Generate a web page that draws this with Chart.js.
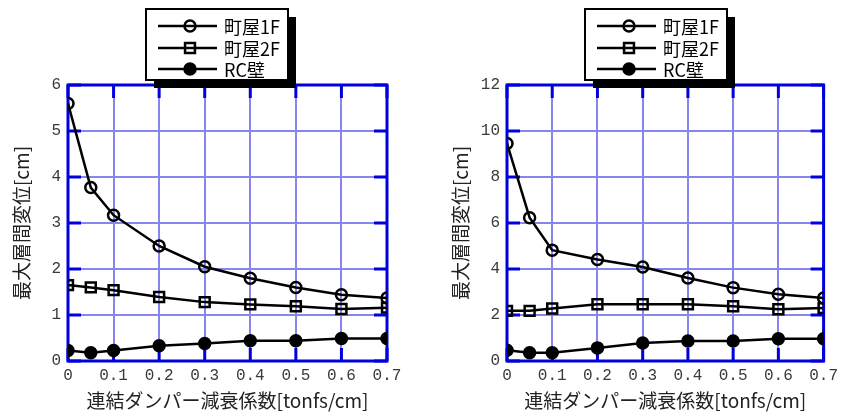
<!DOCTYPE html>
<html>
<head>
<meta charset="utf-8">
<script src="https://cdn.jsdelivr.net/npm/chart.js@4"></script>
<style>
  html, body { margin: 0; padding: 0; background: #fff; }
  #wrap { position: relative; width: 843px; height: 414px; overflow: hidden; }
  .panel { position: absolute; top: 0; height: 414px; }
  #p1 { left: 0; width: 420px; }
  #p2 { left: 439px; width: 404px; }
</style>
</head>
<body>
<div id="wrap">
  <div class="panel" id="p1"><canvas id="c1" width="420" height="414"></canvas></div>
  <div class="panel" id="p2"><canvas id="c2" width="404" height="414"></canvas></div>
</div>
<script>
// Damper damping coefficient (x) and tick labels
const damping = [0, 0.05, 0.1, 0.2, 0.3, 0.4, 0.5, 0.6, 0.7];
const xTickLabels = ['0', '0.1', '0.2', '0.3', '0.4', '0.5', '0.6', '0.7'];
const seriesNames = ['町屋1F', '町屋2F', 'RC壁'];

// Left panel: maximum inter-storey drift [cm]
const leftMachiya1F = [5.6, 3.77, 3.17, 2.5, 2.05, 1.8, 1.6, 1.44, 1.37];
const leftMachiya2F = [1.65, 1.6, 1.54, 1.39, 1.28, 1.23, 1.19, 1.13, 1.16];
const leftRCWall    = [0.23, 0.18, 0.23, 0.33, 0.38, 0.44, 0.44, 0.49, 0.49];
const leftYTicks    = ['0', '1', '2', '3', '4', '5', '6'];

// Right panel: maximum inter-storey drift [cm]
const rightMachiya1F = [9.46, 6.23, 4.82, 4.41, 4.09, 3.61, 3.19, 2.9, 2.74];
const rightMachiya2F = [2.18, 2.18, 2.28, 2.47, 2.47, 2.47, 2.38, 2.25, 2.3];
const rightRCWall    = [0.47, 0.36, 0.36, 0.57, 0.78, 0.87, 0.87, 0.97, 0.97];
const rightYTicks    = ['0', '2', '4', '6', '8', '10', '12'];

const xTitle = '連結ダンパー減衰係数[tonfs/cm]';
const yTitle = '最大層間変位[cm]';

const GRID = 'rgb(134,134,238)';
const FRAME = 'rgb(0,0,222)';
const CJK = '"Noto Sans CJK JP", "Noto Sans", sans-serif';
const MONO = '"Liberation Mono", "DejaVu Sans Mono", monospace';

const styles = [
  { pointStyle: 'circle', pointRadius: 5.5, pointBackgroundColor: 'rgba(0,0,0,0)' },
  { pointStyle: 'rect',   pointRadius: 7,   pointBackgroundColor: 'rgba(0,0,0,0)' },
  { pointStyle: 'circle', pointRadius: 5.5, pointBackgroundColor: '#000' }
];

function makeDatasets(series) {
  return series.map((vals, i) => ({
    label: seriesNames[i],
    data: vals.map((v, k) => ({ x: damping[k], y: v })),
    borderColor: '#000',
    borderWidth: 2.5,
    pointBorderColor: '#000',
    pointBorderWidth: 2.5,
    pointStyle: styles[i].pointStyle,
    pointRadius: styles[i].pointRadius,
    pointBackgroundColor: styles[i].pointBackgroundColor,
    tension: 0,
    fill: false
  }));
}

// Blue frame with short inward ticks on all four sides
const framePlugin = {
  id: 'frame',
  beforeDatasetsDraw(chart) {
    const { ctx, chartArea: a, scales } = chart;
    const L = 13;
    ctx.save();
    ctx.strokeStyle = FRAME;
    ctx.lineWidth = 3;
    ctx.beginPath();
    scales.x.ticks.forEach(t => {
      const px = scales.x.getPixelForValue(t.value);
      ctx.moveTo(px, a.top); ctx.lineTo(px, a.top + L);
      ctx.moveTo(px, a.bottom); ctx.lineTo(px, a.bottom - L);
    });
    scales.y.ticks.forEach(t => {
      const py = scales.y.getPixelForValue(t.value);
      ctx.moveTo(a.left, py); ctx.lineTo(a.left + L, py);
      ctx.moveTo(a.right, py); ctx.lineTo(a.right - L, py);
    });
    ctx.stroke();
    ctx.strokeRect(a.left, a.top, a.right - a.left, a.bottom - a.top);
    ctx.restore();
  }
};

// Boxed legend with drop shadow, line-through-marker samples
const boxLegendPlugin = {
  id: 'boxLegend',
  afterDraw(chart) {
    const { ctx } = chart;
    const bx = 146, by = 9, bw = 142, bh = 71, sh = 8;
    ctx.save();
    ctx.fillStyle = '#000';
    ctx.fillRect(bx + sh, by + sh, bw, bh);
    ctx.fillStyle = '#fff';
    ctx.fillRect(bx, by, bw, bh);
    ctx.strokeStyle = '#000';
    ctx.lineWidth = 2;
    ctx.strokeRect(bx, by, bw, bh);
    const rows = [26, 48, 69];
    chart.data.datasets.forEach((ds, i) => {
      const y = rows[i];
      ctx.strokeStyle = '#000';
      ctx.lineWidth = 2.5;
      ctx.beginPath();
      ctx.moveTo(158, y); ctx.lineTo(217, y);
      ctx.stroke();
      ctx.fillStyle = ds.pointBackgroundColor;
      ctx.strokeStyle = '#000';
      Chart.helpers.drawPoint(ctx, {
        pointStyle: ds.pointStyle, radius: ds.pointRadius, rotation: 0, borderWidth: 2.5
      }, 190, y);
      ctx.fillStyle = '#000';
      ctx.font = '18px ' + CJK;
      ctx.textBaseline = 'middle';
      ctx.textAlign = 'left';
      ctx.fillText(ds.label, 224, y + 1);
    });
    ctx.restore();
  }
};

function makeChart(id, series, yMax, yStep, yLabels, padRight) {
  return new Chart(document.getElementById(id), {
    type: 'line',
    data: { datasets: makeDatasets(series) },
    options: {
      responsive: false,
      animation: false,
      layout: { padding: { left: 0, top: 85, right: padRight, bottom: 0 } },
      plugins: { legend: { display: false }, tooltip: { enabled: false } },
      scales: {
        x: {
          type: 'linear', min: 0, max: 0.7,
          afterFit: s => { s.height = 53; },
          grid: { color: GRID, lineWidth: 2, drawTicks: false },
          border: { display: false },
          ticks: {
            stepSize: 0.1, padding: 5, color: '#3a3a3a',
            font: { family: MONO, size: 16 },
            callback: (v, i) => xTickLabels[i]
          },
          title: {
            display: true, text: xTitle, color: '#222',
            font: { family: CJK, size: 19 }, padding: { bottom: 2, top: 0 }
          }
        },
        y: {
          min: 0, max: yMax,
          afterFit: s => { s.width = 68; },
          grid: { color: GRID, lineWidth: 2, drawTicks: false },
          border: { display: false },
          ticks: {
            stepSize: yStep, padding: 7, color: '#3a3a3a',
            font: { family: MONO, size: 16 },
            callback: (v, i) => yLabels[i]
          },
          title: {
            display: true, text: yTitle, color: '#222',
            font: { family: CJK, size: 19 }, padding: { top: 10, bottom: 0 }
          }
        }
      }
    },
    plugins: [framePlugin, boxLegendPlugin]
  });
}

makeChart('c1', [leftMachiya1F, leftMachiya2F, leftRCWall], 6, 1, leftYTicks, 33);
makeChart('c2', [rightMachiya1F, rightMachiya2F, rightRCWall], 12, 2, rightYTicks, 17);
</script>
</body>
</html>
